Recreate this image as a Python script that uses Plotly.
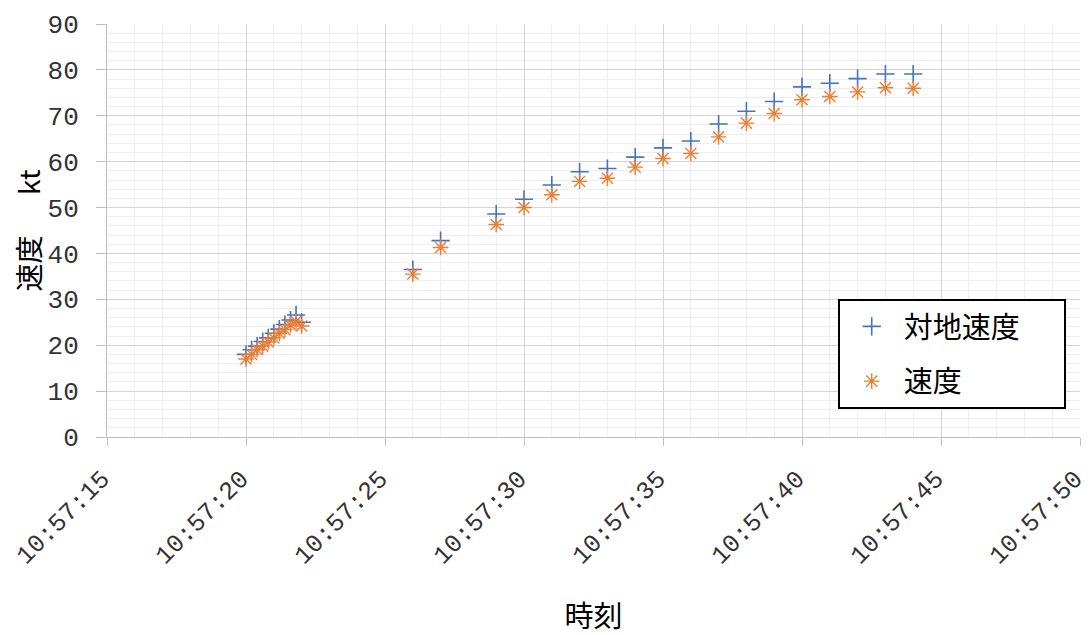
import plotly.graph_objects as go

# --- data ---
times = [
    "10:57:20.0", "10:57:20.2", "10:57:20.4", "10:57:20.6", "10:57:20.8",
    "10:57:21.0", "10:57:21.2", "10:57:21.4", "10:57:21.6", "10:57:21.8",
    "10:57:22.0",
    "10:57:26", "10:57:27", "10:57:29", "10:57:30", "10:57:31", "10:57:32",
    "10:57:33", "10:57:34", "10:57:35", "10:57:36", "10:57:37", "10:57:38",
    "10:57:39", "10:57:40", "10:57:41", "10:57:42", "10:57:43", "10:57:44",
]
ground_speed = [
    18.0, 19.0, 19.8, 20.8, 21.6, 22.6, 23.5, 24.5, 25.5, 26.6,
    25.0,
    36.5, 42.8, 48.6, 51.8, 54.9, 57.8,
    58.5, 61.0, 63.0, 64.5, 68.2, 71.0,
    73.1, 76.3, 77.1, 78.1, 79.1, 79.1,
]
air_speed = [
    17.0, 18.0, 19.0, 19.8, 20.7, 21.6, 22.6, 23.4, 24.4, 25.2,
    24.2,
    35.5, 41.3, 46.3, 50.0, 52.8, 55.7,
    56.4, 58.8, 60.7, 61.8, 65.4, 68.4,
    70.5, 73.5, 74.2, 75.2, 76.1, 76.0,
]
x_tick_labels = ["10:57:15", "10:57:20", "10:57:25", "10:57:30",
                 "10:57:35", "10:57:40", "10:57:45", "10:57:50"]
name_ground = "対地速度"
name_air = "速度"
x_title = "時刻"
y_title = "速度　  kt"

DAY = "2024-01-01 "
xs = [DAY + t for t in times]
x_tick_vals = [DAY + t for t in x_tick_labels]

BLUE = "#4472C4"
ORANGE = "#ED7D31"
CJK = "Noto Sans CJK JP"
NUM = "Liberation Mono"
PAD = "\u00a0" * 6

fig = go.Figure()
fig.add_trace(go.Scatter(
    x=xs, y=ground_speed, mode="markers", name=name_ground + PAD,
    legendgroup="g1",
    marker=dict(symbol="cross-thin", size=13, color=BLUE,
                line=dict(color=BLUE, width=1.6)),
))
fig.add_trace(go.Scatter(
    x=xs, y=air_speed, mode="markers", name=name_air,
    legendgroup="g2",
    marker=dict(symbol="asterisk", size=13, color=ORANGE,
                line=dict(color=ORANGE, width=1.4)),
))

# the page body has an 8px margin, so the figure is sized to fit the window
fig.update_layout(
    width=1083, height=627,
    margin=dict(l=99, r=11, t=16, b=198),
    paper_bgcolor="white", plot_bgcolor="white",
    font=dict(family=CJK, size=28, color="#000000"),
    legend=dict(
        x=0.751, y=0.334, xanchor="left", yanchor="top",
        bordercolor="#000000", borderwidth=2, bgcolor="white",
        font=dict(family=CJK, size=29, color="#000000"),
        tracegroupgap=14, traceorder="grouped",
        itemwidth=54,
    ),
    showlegend=True,
)

fig.update_xaxes(
    type="date", automargin=False,
    range=[DAY + "10:57:15", DAY + "10:57:50"],
    tickmode="array", tickvals=x_tick_vals, ticktext=x_tick_labels,
    tickangle=-45, ticklabeloverflow="allow", ticklabelstandoff=8,
    ticklabelshift=-5,
    tickfont=dict(family=NUM, size=25, color="#333333"),
    showgrid=True, gridcolor="#d4d4d4", gridwidth=1,
    minor=dict(tickmode="linear", tick0=DAY + "10:57:15", dtick=1000,
               showgrid=True, gridcolor="#eeeeee", gridwidth=1),
    ticks="outside", ticklen=8, tickcolor="#bfbfbf",
    showline=True, linecolor="#bfbfbf", linewidth=1,
    title=dict(text=x_title, font=dict(family=CJK, size=29), standoff=40),
)
fig.update_yaxes(
    range=[0, 90], dtick=10, automargin=False,
    ticklabelstandoff=12,
    tickfont=dict(family=NUM, size=26, color="#333333"),
    showgrid=True, gridcolor="#d4d4d4", gridwidth=1,
    minor=dict(dtick=2, showgrid=True, gridcolor="#eeeeee", gridwidth=1),
    ticks="outside", ticklen=10, tickcolor="#bfbfbf",
    showline=True, linecolor="#bfbfbf", linewidth=1,
    zeroline=False,
    title=dict(text=y_title, font=dict(family=CJK, size=28), standoff=16),
)

fig.write_html("out.html")
